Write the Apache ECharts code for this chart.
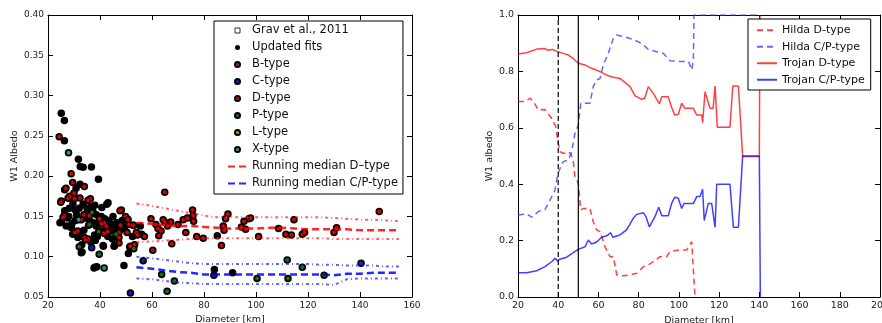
<!DOCTYPE html>
<html>
<head>
<meta charset="utf-8">
<script src="https://cdn.jsdelivr.net/npm/echarts@6/dist/echarts.min.js"></script>
<style>
  html, body { margin: 0; padding: 0; background: #fff; }
  #chart { width: 882px; height: 323px; }
</style>
</head>
<body>
<div id="chart"></div>
<script>
// ---- left panel: albedo vs diameter ----
const gravPts = [];
const blackOnly = [
  [25.1,0.278],[26.3,0.269],[26.3,0.244],[31.7,0.221],[32.4,0.212],[33.5,0.211],[36.7,0.2115],
  [39.4,0.196],[32.3,0.19],[30.8,0.185],[26.4,0.183],[25.1,0.143],[29.5,0.128],[33.1,0.106],
  [38,0.087],[38.8,0.0875],[41.3,0.113],[49.2,0.089],[50.9,0.104],[40.3,0.132],[42.6,0.165],
  [43.1,0.167],[40.7,0.161],[45.4,0.113],[29.6,0.166],[38,0.164],[28.2,0.16],[30.5,0.158],
  [32,0.16],[26.4,0.157],[24.6,0.142],[38.6,0.152],[40.5,0.15],[41.8,0.147],[29.2,0.141],
  [33.8,0.133],[32.2,0.131],[37.9,0.127],[48,0.134],[45.6,0.114],[51.4,0.112],[32.8,0.105],
  [41.2,0.114],[37.7,0.086],[33.5,0.165],[35,0.16],[36.5,0.162],[37.2,0.157],[34.2,0.148],
  [36,0.145],[37.5,0.142],[38.5,0.138],[43.5,0.145],[44.5,0.14],[45,0.15],[46,0.135],[44,0.132],
  [46.5,0.142],[48.5,0.145],[49.5,0.137],[43,0.125],[44.8,0.122],[38.2,0.12],[36.5,0.118],
  [33,0.115],[39,0.125],[27,0.138],[28,0.15],[30.5,0.145],[31,0.152],[29,0.136],[52.5,0.125],
  [55.5,0.138],[56,0.128],[31.5,0.124],[27.5,0.148],[85.1,0.126],[84,0.084],[91,0.08]
];
const bType = [];
const cType = [[36.8,0.111],[51.7,0.055],[56.6,0.095],[83.8,0.077],[140.4,0.092]];
const dType = [
  [24.3,0.249],[28.9,0.203],[26.9,0.185],[29.5,0.192],[25.1,0.169],[26.3,0.151],[34,0.187],
  [28.3,0.175],[30.2,0.172],[32.3,0.173],[36.3,0.172],[35.9,0.151],[31.4,0.132],[34,0.124],
  [35.5,0.122],[39.8,0.147],[41.6,0.142],[42.6,0.137],[42.9,0.131],[48.2,0.158],[49.8,0.15],
  [47.9,0.139],[47.3,0.13],[47.3,0.124],[50.5,0.147],[51.1,0.14],[53,0.139],[51.7,0.113],
  [54,0.13],[57.1,0.125],[59.6,0.147],[60.3,0.108],[27.7,0.1725],[30,0.179],[35.4,0.17],
  [24.9,0.1675],[25.8,0.149],[33.8,0.152],[32.8,0.146],[35.6,0.139],[30.3,0.13],[40.5,0.141],
  [42.4,0.138],[41.5,0.129],[50.8,0.146],[52.7,0.139],[50.4,0.13],[54.4,0.127],[47.3,0.117],
  [53.3,0.115],[34.4,0.121],[47.7,0.157],
  [64.9,0.18],[64.3,0.146],[64.9,0.143],[67.2,0.143],[62.3,0.135],[62.6,0.126],[67.6,0.116],
  [72,0.146],[73.6,0.148],[75.6,0.158],[75.8,0.151],[76,0.144],[73,0.13],[77.2,0.125],
  [79.7,0.123],[61.5,0.14],[63.5,0.132],[66,0.138],[70,0.14],
  [86.7,0.114],[87.4,0.138],[87.7,0.133],[88.3,0.147],[89.2,0.153],[94.4,0.137],[95.4,0.144],
  [96,0.134],[97.3,0.147],[97.9,0.148],[101,0.125],[108.7,0.135],[111.5,0.128],[113.6,0.127],
  [114.6,0.146],[117.8,0.128],[118.7,0.13],[130,0.13],[131,0.136],[147.4,0.156]
];
const pType = [
  [36.9,0.155],[35.9,0.14],[32,0.1125],[39.7,0.103],[46.2,0.128],[53,0.11],[39.5,0.131],
  [63.7,0.078],[68.6,0.07],[65.8,0.057],[100.4,0.073],[112,0.096],[112.3,0.073],[117.8,0.087],
  [126.2,0.077]
];
const lType = [];
const xType = [[27.9,0.229],[31.8,0.146],[41.6,0.086]];

const medX = [54,60,65,70,75,80,85,90,95,100,105,110,115,120,125,130,135,140,145,150,155];
const medD    = [0.142,0.141,0.139,0.138,0.138,0.137,0.136,0.135,0.135,0.135,0.136,0.136,0.135,0.134,0.134,0.134,0.134,0.133,0.133,0.133,0.133];
const medDHi  = [0.166,0.163,0.160,0.157,0.154,0.151,0.149,0.149,0.149,0.149,0.149,0.149,0.149,0.149,0.149,0.148,0.147,0.146,0.146,0.145,0.144];
const medDLo  = [0.118,0.119,0.120,0.121,0.122,0.123,0.123,0.123,0.123,0.123,0.123,0.123,0.123,0.123,0.123,0.122,0.122,0.122,0.122,0.122,0.122];
const medCP   = [0.087,0.085,0.083,0.081,0.080,0.078,0.078,0.078,0.078,0.078,0.078,0.078,0.078,0.078,0.078,0.077,0.079,0.079,0.080,0.080,0.080];
const medCPHi = [0.100,0.098,0.096,0.094,0.092,0.091,0.091,0.091,0.091,0.091,0.091,0.091,0.091,0.091,0.090,0.090,0.089,0.089,0.089,0.088,0.088];
const medCPLo = [0.073,0.072,0.070,0.068,0.067,0.066,0.066,0.066,0.066,0.066,0.066,0.066,0.066,0.066,0.066,0.065,0.072,0.073,0.073,0.073,0.073];

// ---- right panel: fractions vs diameter ----
const hildaD = [
  [20,0.693],[23.6,0.693],[26,0.705],[28,0.69],[30.1,0.663],[33.4,0.665],[36.7,0.634],[38.8,0.604],
  [39.7,0.557],[40.9,0.515],[42.9,0.509],[45,0.515],[46.5,0.505],[47.5,0.48],[48.3,0.427],[50,0.403],
  [51.2,0.309],[52.5,0.314],[55.8,0.314],[57.4,0.267],[59.1,0.238],[60.8,0.232],[63.3,0.178],
  [65.7,0.143],[67.4,0.143],[69.1,0.078],[72.4,0.075],[75.7,0.078],[79,0.084],[82.3,0.107],
  [85.6,0.117],[90.6,0.143],[93.9,0.143],[95.6,0.161],[100.6,0.167],[103.9,0.167],[106.4,0.196],
  [107.2,0.203],[108,0.0]
];
const hildaCP = [
  [20,0.291],[24.3,0.295],[26.8,0.283],[30.1,0.303],[33.4,0.31],[35.1,0.332],[38.4,0.379],[39.7,0.433],
  [40.9,0.456],[42.5,0.48],[45,0.486],[46.7,0.515],[48.3,0.58],[50,0.61],[51.2,0.687],[55.8,0.687],
  [57.4,0.746],[59.1,0.77],[60.8,0.775],[62.4,0.823],[64.9,0.864],[67.4,0.917],[69.1,0.929],
  [72.4,0.924],[77.3,0.913],[81.5,0.899],[84.8,0.878],[89,0.87],[92.2,0.864],[95.6,0.838],
  [100.6,0.835],[104.8,0.835],[106.4,0.805],[107.2,0.84],[107.5,1.0],[140,1.0]
];
const trojanD = [
  [20,0.862],[24.3,0.866],[29.3,0.879],[33.4,0.881],[35,0.875],[37,0.878],[39.7,0.87],[42.5,0.864],
  [45,0.858],[47.5,0.846],[50,0.829],[53.3,0.823],[56.6,0.811],[58.5,0.806],[60.8,0.799],[64.1,0.787],
  [66,0.782],[67.4,0.779],[70.7,0.775],[73,0.762],[75.7,0.746],[78.2,0.713],[81.5,0.701],[83,0.705],
  [84.8,0.746],[87.3,0.722],[90.3,0.685],[91.5,0.71],[94.7,0.71],[96.5,0.67],[98,0.645],[99.7,0.648],
  [101.4,0.687],[103,0.669],[107.2,0.669],[108.9,0.645],[111.4,0.645],[111.8,0.618],[113,0.728],
  [115.5,0.669],[117,0.669],[118,0.748],[119.1,0.602],[125.4,0.602],[126.8,0.748],[129.6,0.748],
  [131.7,0.498],[140,0.498],[140.3,1.0]
];
const trojanCP = [
  [20,0.086],[24.3,0.086],[29.3,0.093],[33.4,0.108],[36.7,0.125],[38.4,0.137],[39.7,0.128],[40.8,0.134],
  [44.2,0.141],[47.5,0.157],[50,0.169],[53.3,0.178],[55,0.202],[56.6,0.188],[59.1,0.195],[61.6,0.212],
  [64.1,0.217],[66.1,0.228],[67.1,0.212],[70.7,0.22],[74,0.238],[77.3,0.279],[79,0.293],[82.3,0.299],
  [83.7,0.284],[85.3,0.249],[88.1,0.285],[90,0.318],[91.5,0.288],[94.7,0.288],[96.4,0.332],[98,0.354],
  [99.7,0.35],[101.4,0.314],[102.5,0.332],[107.2,0.332],[108.9,0.356],[110.5,0.356],[111.8,0.382],
  [112.6,0.271],[114.6,0.332],[116.3,0.332],[118,0.247],[118.8,0.4],[125.4,0.4],[127.1,0.247],
  [129.6,0.247],[131.7,0.5],[140,0.5],[140.5,0.0]
];
const cutDashed = 40;
const cutSolid = 50;

const FONT = 'DejaVu Sans';
const zip = (xs, ys) => xs.map((x, i) => [x, ys[i]]);
// hide the marker that echarts puts in the middle of line legend icons
const noMarker = { color: 'rgba(0,0,0,0)', borderWidth: 0, opacity: 0 };

function frameAxes(grid, min, max, interval, fmt, fontSize, isX, name, nameGap) {
  const base = {
    gridIndex: grid, type: 'value', min: min, max: max, interval: interval,
    axisLine: { show: true, onZero: false, lineStyle: { color: '#000', width: 1 } },
    axisTick: { show: true, inside: true, length: 5, lineStyle: { color: '#000' } },
    splitLine: { show: false }
  };
  const main = Object.assign({}, base, {
    position: isX ? 'bottom' : 'left',
    name: name, nameLocation: 'middle', nameGap: nameGap,
    nameTextStyle: { fontFamily: FONT, fontSize: 9.5, color: '#222' },
    axisLabel: { show: true, formatter: fmt, fontFamily: FONT, fontSize: fontSize, color: '#222', margin: 4 }
  });
  const other = Object.assign({}, base, {
    position: isX ? 'top' : 'right',
    axisLabel: { show: false }
  });
  return [main, other];
}

const leftX = frameAxes(0, 20, 160, 20, v => v.toFixed(0), 9, true, 'Diameter [km]', 11);
const leftY = frameAxes(0, 0.05, 0.40, 0.05, v => v.toFixed(2), 9, false, 'W1 Albedo', 28);
const rightX = frameAxes(1, 20, 200, 20, v => v.toFixed(0), 9.5, true, 'Diameter [km]', 11);
const rightY = frameAxes(1, 0, 1, 0.2, v => v.toFixed(1), 9.5, false, 'W1 albedo', 20);

function dot(name, data, color) {
  return {
    name: name, type: 'scatter', xAxisIndex: 0, yAxisIndex: 0, data: data,
    symbol: 'circle', symbolSize: 4.5,
    itemStyle: { color: color, borderColor: '#000', borderWidth: 0.6, opacity: 1 }
  };
}
function lline(name, ys, color, width, dash, opacity) {
  return {
    name: name, type: 'line', xAxisIndex: 0, yAxisIndex: 0, data: zip(medX, ys),
    symbol: 'none', showSymbol: false, silent: true,
    lineStyle: { color: color, width: width, type: dash, opacity: opacity }
  };
}
function rline(name, data, color, dash) {
  return {
    name: name, type: 'line', xAxisIndex: 2, yAxisIndex: 2, data: data,
    symbol: 'none', showSymbol: false, silent: true,
    lineStyle: { color: color, width: 1.5, type: dash, opacity: 0.75 },
    itemStyle: { color: color }
  };
}

const allPts = blackOnly.concat(cType, dType, pType, xType, bType, lType);

const option = {
  animation: false,
  backgroundColor: '#fff',
  grid: [
    { left: 48, top: 15, width: 364, height: 282, containLabel: false, outerBoundsMode: 'none' },
    { left: 518, top: 15, width: 362, height: 282, containLabel: false, outerBoundsMode: 'none' }
  ],
  xAxis: [leftX[0], leftX[1], rightX[0], rightX[1]],
  yAxis: [leftY[0], leftY[1], rightY[0], rightY[1]],
  legend: [
    {
      orient: 'vertical', left: 214, top: 21,
      borderColor: '#000', borderWidth: 1, backgroundColor: '#fff',
      padding: [3, 5, 4, 13], itemGap: 4, itemWidth: 19, itemHeight: 5,
      textStyle: { fontFamily: FONT, fontSize: 11.5, color: '#111', lineHeight: 13 },
      selectedMode: false,
      data: [
        { name: 'Grav et al., 2011', icon: 'path://M0,0H10V10H0Z', itemStyle: { color: '#fff', borderColor: '#000', borderWidth: 1 } },
        { name: 'Updated fits', icon: 'circle' },
        { name: 'B-type', icon: 'circle' },
        { name: 'C-type', icon: 'circle' },
        { name: 'D-type', icon: 'circle' },
        { name: 'P-type', icon: 'circle' },
        { name: 'L-type', icon: 'circle' },
        { name: 'X-type', icon: 'circle' },
        { name: 'Running median D\u2013type', itemStyle: noMarker },
        { name: 'Running median C/P-type', itemStyle: noMarker }
      ]
    },
    {
      orient: 'vertical', left: 748, top: 19,
      borderColor: '#000', borderWidth: 1, backgroundColor: '#fff',
      padding: [5, 6, 4, 8], itemGap: 4, itemWidth: 20, itemHeight: 8,
      textStyle: { fontFamily: FONT, fontSize: 11, color: '#111', lineHeight: 12.5 },
      selectedMode: false,
      data: [
        { name: 'Hilda D-type', itemStyle: noMarker },
        { name: 'Hilda C/P-type', itemStyle: noMarker },
        { name: 'Trojan D-type', itemStyle: noMarker },
        { name: 'Trojan C/P-type', itemStyle: noMarker }
      ]
    }
  ],
  series: [
    {
      name: 'Grav et al., 2011', type: 'scatter', xAxisIndex: 0, yAxisIndex: 0, data: gravPts,
      symbol: 'rect', symbolSize: 6,
      itemStyle: { color: '#fff', borderColor: '#000', borderWidth: 1 }
    },
    {
      name: 'Updated fits', type: 'scatter', xAxisIndex: 0, yAxisIndex: 0, data: allPts,
      symbol: 'circle', symbolSize: 7.5,
      itemStyle: { color: '#000', opacity: 1 }
    },
    lline('medDHi', medDHi, '#ff2020', 2, [3, 3, 1, 3], 0.7),
    lline('medDLo', medDLo, '#ff2020', 2, [3, 3, 1, 3], 0.7),
    lline('Running median D\u2013type', medD, '#ff0000', 2.5, [7, 4], 0.85),
    lline('medCPHi', medCPHi, '#2020ff', 2, [3, 3, 1, 3], 0.7),
    lline('medCPLo', medCPLo, '#2020ff', 2, [3, 3, 1, 3], 0.7),
    lline('Running median C/P-type', medCP, '#0000ff', 2.5, [7, 4], 0.85),
    dot('B-type', bType, '#9b1a9b'),
    dot('C-type', cType, '#1a1acc'),
    dot('D-type', dType, '#e00000'),
    dot('P-type', pType, '#117711'),
    dot('L-type', lType, '#aaaa00'),
    dot('X-type', xType, '#2a9a9a'),

    rline('Hilda D-type', hildaD, '#ff0000', [6, 4]),
    rline('Hilda C/P-type', hildaCP, '#3333ff', [6, 4]),
    rline('Trojan D-type', trojanD, '#ff0000', 'solid'),
    rline('Trojan C/P-type', trojanCP, '#0000ff', 'solid'),
    {
      name: 'cutDashed', type: 'line', xAxisIndex: 2, yAxisIndex: 2,
      data: [[cutDashed, 0], [cutDashed, 1]], symbol: 'none', silent: true,
      lineStyle: { color: '#000', width: 1.2, type: [5, 3] }
    },
    {
      name: 'cutSolid', type: 'line', xAxisIndex: 2, yAxisIndex: 2,
      data: [[cutSolid, 0], [cutSolid, 1]], symbol: 'none', silent: true,
      lineStyle: { color: '#000', width: 1.2, type: 'solid' }
    }
  ]
};

const chart = echarts.init(document.getElementById('chart'), null, { renderer: 'canvas' });
chart.setOption(option);
</script>
</body>
</html>
